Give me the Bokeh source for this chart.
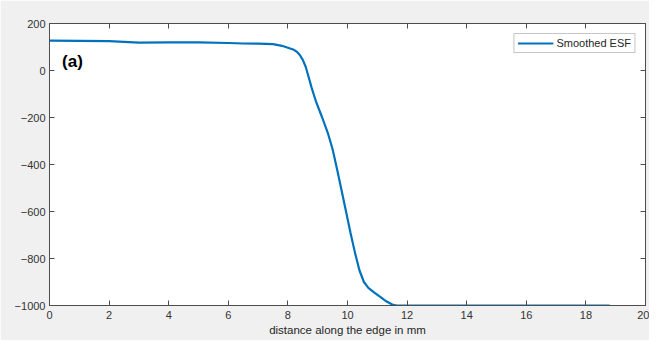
from bokeh.plotting import figure
from bokeh.models import Range1d, LinearAxis, FixedTicker, Label, Legend, LegendItem
from bokeh.embed import file_html
from bokeh.resources import INLINE

# data
dist_mm = [0, 1, 2, 3, 4, 5, 6, 6.5, 7, 7.5, 7.8, 8.0, 8.2, 8.3, 8.4, 8.5, 8.6, 8.7, 8.8,
           8.95, 9.15, 9.35, 9.5, 9.65, 9.8, 9.95, 10.1, 10.25, 10.4, 10.55, 10.7,
           10.9, 11.1, 11.3, 11.5, 11.65, 12, 14, 16, 18, 18.8]
esf = [127, 126, 125, 119, 120, 120, 117, 115, 114, 112, 105, 97, 88, 80, 66, 45, 15, -30, -75,
       -135, -200, -270, -335, -420, -510, -600, -690, -775, -850, -900, -925,
       -945, -963, -982, -996, -1000, -1000, -1000, -1000, -1000, -1000]
x_ticks = [0, 2, 4, 6, 8, 10, 12, 14, 16, 18, 20]
y_ticks = [-1000, -800, -600, -400, -200, 0, 200]

FONT = "Liberation Sans"
AX = "#4d4d4d"

p = figure(width=649, height=340, output_backend="svg", toolbar_location=None,
           x_range=Range1d(0, 20), y_range=Range1d(-1000, 200),
           min_border_left=49, min_border_right=4, min_border_top=23, min_border_bottom=35,
           background_fill_color="white", border_fill_color="#f0f0f0",
           outline_line_color=AX, outline_line_width=1)
p.grid.visible = False

line = p.line(dist_mm, esf, line_color="#0072BD", line_width=2.2)

def style(ax, ticks, labels=True):
    ax.ticker = FixedTicker(ticks=ticks)
    ax.major_tick_in = 5
    ax.major_tick_out = 0
    ax.minor_tick_line_color = None
    ax.axis_line_color = AX
    ax.major_tick_line_color = AX
    ax.major_label_text_font = FONT
    ax.major_label_text_font_size = "11px"
    ax.major_label_text_color = "#333333"
    ax.axis_label_text_font = FONT
    ax.axis_label_text_font_size = "11.5px"
    ax.axis_label_text_font_style = "normal"
    ax.axis_label_text_color = "#262626"
    if not labels:
        ax.major_label_overrides = {t: "" for t in ticks}
        ax.major_label_standoff = 0

style(p.xaxis[0], x_ticks)
style(p.yaxis[0], y_ticks)
p.xaxis[0].axis_label = "distance along the edge in mm"
p.xaxis[0].axis_label_standoff = 2
p.xaxis[0].major_label_standoff = 5
p.yaxis[0].major_label_standoff = 4

top = LinearAxis()
style(top, x_ticks, labels=False)
p.add_layout(top, "above")
right = LinearAxis()
style(right, y_ticks, labels=False)
p.add_layout(right, "right")

legend = Legend(items=[LegendItem(label="Smoothed ESF", renderers=[line])],
                location="top_right", label_text_font=FONT, label_text_font_size="11px",
                label_text_color="#262626", border_line_color="#8c8c8c",
                border_line_width=1, glyph_width=36, glyph_height=12,
                label_height=12, padding=3, spacing=0, margin=10,
                label_standoff=3, background_fill_alpha=1)
p.add_layout(legend)

p.add_layout(Label(x=0.42, y=78, text="(a)", text_font=FONT, text_font_size="17px",
                   text_font_style="bold", text_color="black",
                   text_baseline="top", text_align="left"))

open("out.html", "w").write(file_html(p, INLINE))
